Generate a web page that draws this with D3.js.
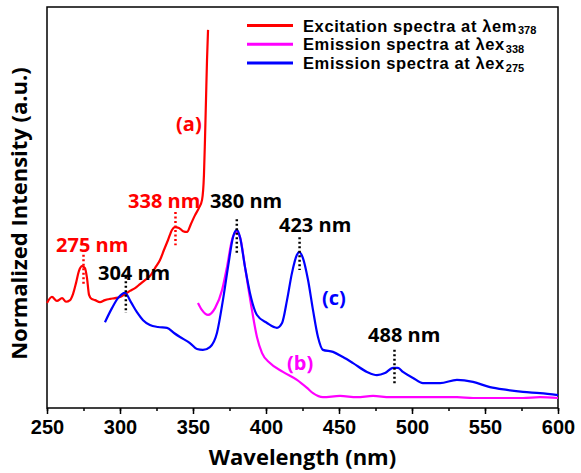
<!DOCTYPE html>
<html>
<head>
<meta charset="utf-8">
<script src="https://cdn.jsdelivr.net/npm/d3@7"></script>
<style>
  body { margin: 0; background: #fff; }
  svg { display: block; }
</style>
</head>
<body>
<div id="chart"></div>
<script>
// DATA (wavelength nm, normalized intensity)
const excitation378 = [
  [250, 26.2], [253.4, 27.7], [256.8, 26.7], [260.3, 27.4], [263, 26.5], [265.8, 26.9],
  [267.8, 28.4], [269.9, 31.2], [271.9, 34.2], [274, 35.4], [276, 34.9], [277.4, 32.4],
  [278.8, 28.2], [280.5, 27.2], [282.9, 26.9], [286.3, 26.4], [289.7, 26.9], [293.2, 27.2], [296.6, 27.4],
  [300, 27.7], [303.4, 28.4], [306.8, 29.2], [310.3, 29.9], [313.7, 30.9], [317.1, 31.9],
  [320.5, 32.9], [324, 34.9], [327.4, 36.9], [330.1, 39.4], [332.9, 41.9], [335.6, 44.4],
  [337.7, 45.1], [340.4, 44.9], [343.2, 44.1], [345.9, 43.9], [348.6, 45.9], [351.4, 48.1],
  [354.1, 49.9], [356.2, 51.9], [357.5, 58.1], [358.2, 66.8], [358.9, 76.8], [359.6, 86.8],
  [360.3, 94.3]
];

const emission338 = [
  [353.4, 26.2], [356.2, 24.4], [360.3, 23.2], [365.1, 24.9], [369.9, 29.4], [373.3, 35.2],
  [376.7, 41.9], [379.5, 43.9], [382.2, 42.6], [385.6, 35.2], [390.4, 24.4], [393.8, 17.7],
  [397.3, 13.7], [402.7, 11.2], [411.6, 9], [421.2, 7], [428.1, 5], [432.2, 3.7],
  [439, 2.7], [450.7, 3], [462.3, 2.7], [473.3, 3], [484.9, 2.7], [507.5, 2.7],
  [530.8, 2.7], [541.8, 2.5], [553.4, 2.5], [576, 2.5], [587.7, 2.7], [600, 2.5]
];

const emission275 = [
  [289.7, 21.4], [294.5, 24.9], [298.6, 27.4], [303.4, 28.7], [307.5, 26.4], [311.6, 23.9],
  [315.8, 21.9], [320.5, 20.7], [326, 20.2], [332.2, 20.0], [337, 18.7], [341.1, 17.7],
  [347.9, 16.2], [352.7, 14.7], [356.8, 14.5], [361.6, 15.2], [366.4, 18.7], [370.5, 26.9],
  [374, 35.2], [377.4, 42.6], [380.1, 44.4], [382.2, 42.6], [385.6, 35.2], [389, 28.7],
  [393.8, 23.2], [400.7, 21.2], [407.5, 20], [411, 21.2], [414.4, 26.9], [417.8, 33.7],
  [421.2, 38.2], [422.6, 38.9], [425.3, 37.4], [428.8, 31.9], [432.2, 24.4], [435.6, 17.7],
  [439, 14.5], [445.9, 14], [452.7, 12.7], [459.6, 11.2], [469.2, 9], [476, 8.2],
  [481.5, 8.7], [487, 10], [490.4, 10], [493.8, 9], [500.7, 7.5], [507.5, 6.2],
  [519.2, 6.2], [530.8, 7], [541.8, 6.5], [553.4, 5.2], [565.1, 4.5], [576, 4],
  [587.7, 3.7], [600, 3.2]
];

const xTicks = [250, 300, 350, 400, 450, 500, 550, 600];

// peak markers: label, wavelength, dotted line from/to intensity
const peakLabels = ["275 nm", "304 nm", "338 nm", "380 nm", "423 nm", "488 nm"];
const peakWaves = [275, 304, 338, 380, 423, 488];
const peakTop = [38.2, 32.7, 48.9, 47.1, 42.6, 14.5];
const peakBottom = [30.7, 23.7, 40.6, 38.7, 34.4, 6.2];
const peakTextAt = [[256.2, 38.9], [284.9, 31.9], [305.5, 49.9], [361.6, 49.9], [408.9, 43.9], [469.9, 16.5]];

const curveTags = ["(a)", "(b)", "(c)"];
const curveTagAt = [[338.4, 69.1], [414.4, 9.5], [438.4, 25.7]];

const legendNames = ["Excitation spectra at \u03bbem", "Emission spectra at \u03bbex", "Emission spectra at \u03bbex"];
const legendSubs = ["378", "338", "275"];

// LAYOUT
const width = 581, height = 473;
const margin = {top: 7, right: 23, bottom: 65, left: 47};
const red = "#ff0000", magenta = "#ff00ff", blue = "#0000ff";
const seriesColors = [red, magenta, blue];
const peakColors = [red, "#000", red, "#000", "#000", "#000"];
const tagColors = [red, magenta, blue];
const textFont = "'Open Sans', sans-serif";
const legendFont = "'Liberation Sans', Arial, sans-serif";

const svg = d3.select("#chart").append("svg")
  .attr("width", width)
  .attr("height", height);

const x = d3.scaleLinear().domain([250, 600]).range([margin.left, width - margin.right]);
const y = d3.scaleLinear().domain([0, 100]).range([height - margin.bottom, margin.top]);

const line = d3.line()
  .x(d => x(d[0]))
  .y(d => y(d[1]))
  .curve(d3.curveMonotoneX);

// x axis with minor ticks
const xAxis = svg.append("g")
  .attr("transform", `translate(0,${height - margin.bottom})`);
xAxis.call(d3.axisBottom(x).tickValues(d3.range(250, 601, 25)).tickSize(3).tickFormat(""))
  .call(g => g.select(".domain").remove())
  .selectAll("line").attr("stroke-width", 1.5);
xAxis.append("g")
  .call(d3.axisBottom(x).tickValues(xTicks).tickSize(6).tickPadding(6))
  .call(g => g.select(".domain").remove())
  .call(g => g.selectAll("line").attr("stroke-width", 1.5))
  .call(g => g.selectAll("text")
    .attr("font-family", "'Liberation Sans', Arial, sans-serif")
    .attr("font-weight", "bold")
    .attr("font-size", 20)
    .attr("fill", "#000"));

// frame
svg.append("rect")
  .attr("x", margin.left)
  .attr("y", margin.top)
  .attr("width", width - margin.left - margin.right)
  .attr("height", height - margin.top - margin.bottom)
  .attr("fill", "none")
  .attr("stroke", "#000")
  .attr("stroke-width", 1.5);

// spectra
[excitation378, emission338, emission275].forEach((s, i) => {
  svg.append("path")
    .datum(s)
    .attr("fill", "none")
    .attr("stroke", seriesColors[i])
    .attr("stroke-width", 2.2)
    .attr("stroke-linejoin", "round")
    .attr("d", line);
});

// dotted peak markers
peakWaves.forEach((w, i) => {
  svg.append("line")
    .attr("x1", x(w)).attr("x2", x(w))
    .attr("y1", y(peakTop[i])).attr("y2", y(peakBottom[i]))
    .attr("stroke", peakColors[i])
    .attr("stroke-width", 2.5)
    .attr("stroke-dasharray", "2,2.5");
  svg.append("text")
    .attr("x", x(peakTextAt[i][0]))
    .attr("y", y(peakTextAt[i][1]))
    .attr("font-family", textFont)
    .attr("font-weight", "bold")
    .attr("font-size", 20)
    .attr("fill", peakColors[i])
    .text(peakLabels[i]);
});

// (a) (b) (c)
curveTags.forEach((t, i) => {
  svg.append("text")
    .attr("x", x(curveTagAt[i][0]))
    .attr("y", y(curveTagAt[i][1]))
    .attr("font-family", textFont)
    .attr("font-weight", "bold")
    .attr("font-size", 20)
    .attr("fill", tagColors[i])
    .text(t);
});

// legend (subscript as its own text so the rows don't collide)
const legend = svg.append("g").attr("transform", "translate(247,25.5)");
legendNames.forEach((name, i) => {
  const row = legend.append("g").attr("transform", `translate(0,${i * 18.8})`);
  row.append("line")
    .attr("x1", 0).attr("x2", 46)
    .attr("stroke", seriesColors[i])
    .attr("stroke-width", 3);
  const t = row.append("text")
    .attr("x", 56)
    .attr("y", 6)
    .attr("font-family", legendFont)
    .attr("font-weight", "bold")
    .attr("font-size", 16.5)
    .attr("letter-spacing", 0.6)
    .attr("fill", "#000")
    .text(name);
  const w = t.node().getComputedTextLength();
  row.append("text")
    .attr("x", 56 + w + 1)
    .attr("y", 8.5)
    .attr("font-family", legendFont)
    .attr("font-weight", "bold")
    .attr("font-size", 11)
    .attr("fill", "#000")
    .text(legendSubs[i]);
});

// axis titles
svg.append("text")
  .attr("x", (margin.left + width - margin.right) / 2)
  .attr("y", 465)
  .attr("text-anchor", "middle")
  .attr("font-family", textFont)
  .attr("font-weight", "bold")
  .attr("font-size", 22)
  .text("Wavelength (nm)");

svg.append("text")
  .attr("transform", `translate(27,${(margin.top + height - margin.bottom) / 2 + 6}) rotate(-90)`)
  .attr("text-anchor", "middle")
  .attr("font-family", textFont)
  .attr("font-weight", "bold")
  .attr("font-size", 22)
  .text("Normalized Intensity (a.u.)");
</script>
</body>
</html>
